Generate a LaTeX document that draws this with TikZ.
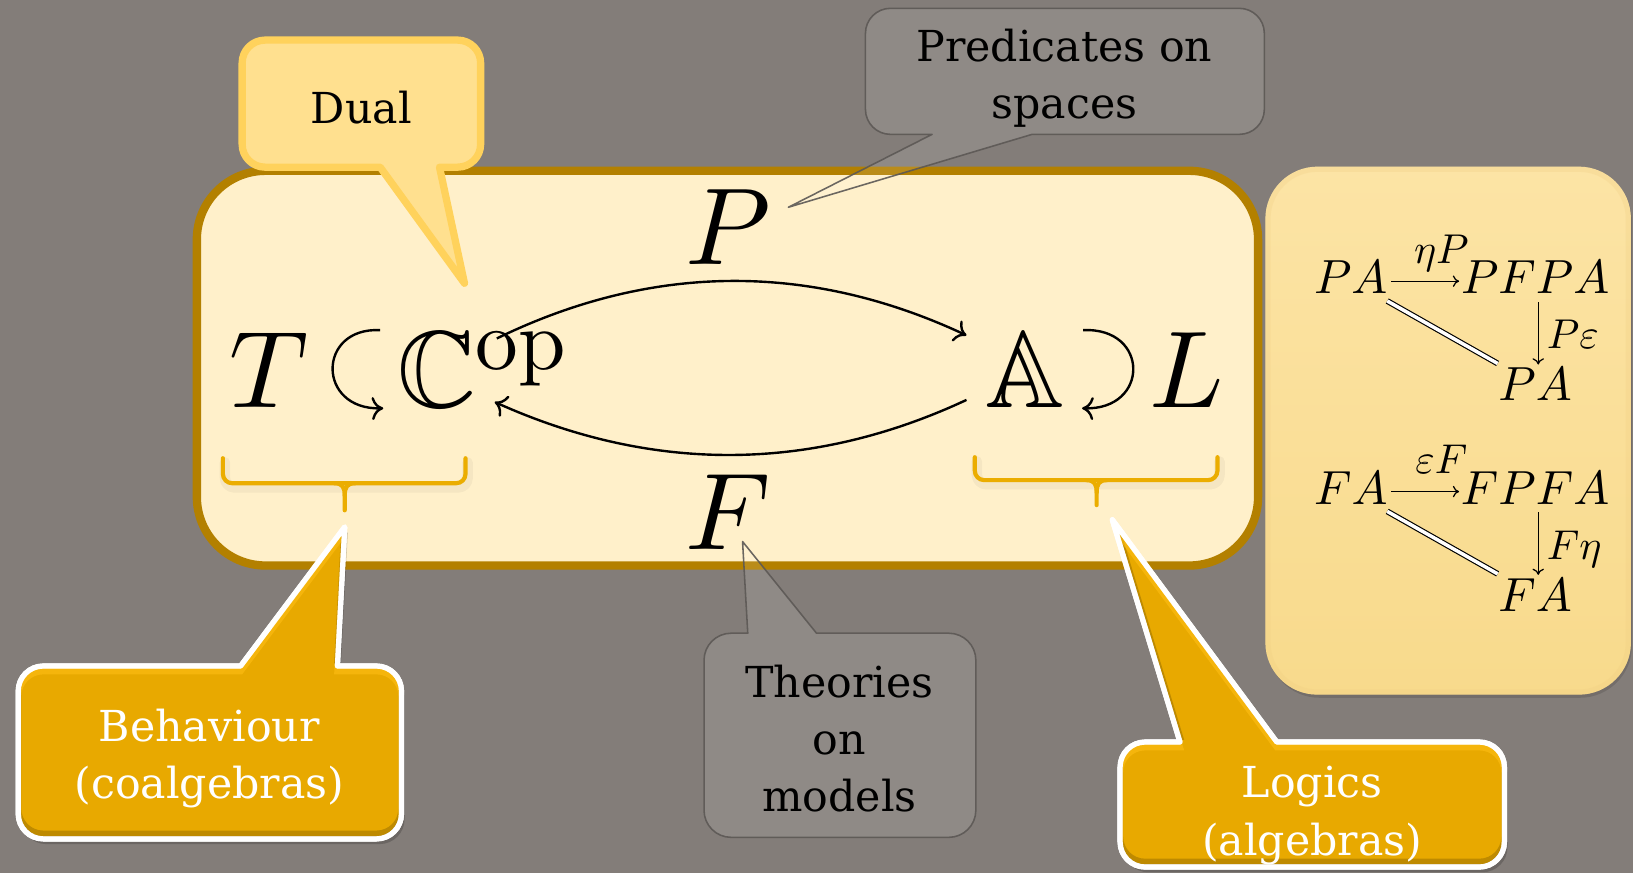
\RequirePackage{fix-cm}
\documentclass[tikz,border=0pt]{standalone}
\usepackage{amssymb}
\usepackage{fontspec}
\newfontfamily\callfont{DejaVu Serif}
\DeclareFontShape{OML}{cmm}{m}{it}{<->cmmi10}{}
\DeclareFontShape{OT1}{cmr}{m}{n}{<->cmr10}{}
\usetikzlibrary{arrows.meta,calc}
\definecolor{bgc}{RGB}{131,125,121}
\definecolor{mainfill}{RGB}{255,240,202}
\definecolor{mainborder}{RGB}{179,128,0}
\definecolor{rightfillA}{RGB}{252,228,165}
\definecolor{rightfillB}{RGB}{248,218,140}
\definecolor{dualfill}{RGB}{255,224,143}
\definecolor{dualborder}{RGB}{255,210,92}
\definecolor{grayborder}{RGB}{92,88,85}
\definecolor{goldfill}{RGB}{232,169,0}
\definecolor{goldlight}{RGB}{255,190,20}
\definecolor{bracec}{RGB}{235,173,0}
% rounded box with a pointer on its bottom edge: x1 y1 x2 y2 r baseleft baseright tipx tipy
\newcommand{\cbot}[9]{({#1+#5},#2) -- ({#3-#5},#2) .. controls ({#3-0.4477*#5},#2) and (#3,{#2+0.4477*#5}) .. (#3,{#2+#5}) -- (#3,{#4-#5}) .. controls (#3,{#4-0.4477*#5}) and ({#3-0.4477*#5},#4) .. ({#3-#5},#4) -- (#7,#4) -- (#8,#9) -- (#6,#4) -- ({#1+#5},#4) .. controls ({#1+0.4477*#5},#4) and (#1,{#4-0.4477*#5}) .. (#1,{#4-#5}) -- (#1,{#2+#5}) .. controls (#1,{#2+0.4477*#5}) and ({#1+0.4477*#5},#2) .. cycle}
% rounded box with a pointer on its top edge
\newcommand{\ctop}[9]{({#1+#5},#2) -- (#6,#2) -- (#8,#9) -- (#7,#2) -- ({#3-#5},#2) .. controls ({#3-0.4477*#5},#2) and (#3,{#2+0.4477*#5}) .. (#3,{#2+#5}) -- (#3,{#4-#5}) .. controls (#3,{#4-0.4477*#5}) and ({#3-0.4477*#5},#4) .. ({#3-#5},#4) -- ({#1+#5},#4) .. controls ({#1+0.4477*#5},#4) and (#1,{#4-0.4477*#5}) .. (#1,{#4-#5}) -- (#1,{#2+#5}) .. controls (#1,{#2+0.4477*#5}) and ({#1+0.4477*#5},#2) .. cycle}
\newcommand{\opfont}{\fontencoding{OT1}\fontfamily{cmr}\fontseries{m}\fontshape{n}\fontsize{82}{82}\selectfont}
\tikzset{
  bigm/.style={inner sep=0pt, font=\fontsize{105}{105}\selectfont},
  dmath/.style={inner sep=0pt, anchor=base, font=\fontsize{46}{46}\selectfont},
  dlab/.style={inner sep=0pt, font=\fontsize{40}{40}\selectfont},
  cmarr/.style={line width=2.3pt, -{Computer Modern Rightarrow[length=11pt,width=22pt]}},
  smallarr/.style={line width=1.2pt, -{Computer Modern Rightarrow[length=6pt,width=11pt]}},
  dblline/.style={double, double distance=3.4pt, line width=1.1pt},
  bracestyle/.style={draw=bracec, line width=4pt, line cap=round, line join=round},
  braceshadow/.style={draw=black, opacity=0.04, line width=10pt, line cap=round, line join=round},
  calltext/.style={align=center, inner sep=0pt, font=\callfont\fontsize{41}{55}\selectfont},
  dualcall/.style={fill=dualfill, draw=dualborder, line width=7pt, line join=round},
  graycall/.style={fill=white, fill opacity=0.1, draw=grayborder, draw opacity=0.9, line width=1.5pt, line join=round},
  goldcall/.style={fill=goldfill, draw=white, line width=5pt, line join=round},
  callshadow/.style={fill=black, fill opacity=0.18, draw=none},
}
\begin{document}
\begin{tikzpicture}[x=1pt,y=-1pt]
\useasboundingbox (0,0) rectangle (1568,838);
\fill[bgc] (0,0) rectangle (1568,838);

% main box
\draw[line width=8pt, draw=mainborder, fill=mainfill, rounded corners=66pt] (189,164) rectangle (1208,543);

% right box
\path[fill=black, fill opacity=0.12, rounded corners=50pt] (1217,163) rectangle (1567,670);
\shade[top color=rightfillA, bottom color=rightfillB, rounded corners=50pt] (1215,160) rectangle (1566,667);
\begin{scope}
  \clip[rounded corners=50pt] (1215,160) rectangle (1566,667);
  \draw[draw=rightfillB!85!brown, opacity=0.25, line width=10pt, rounded corners=50pt] (1215,160) rectangle (1566,667);
\end{scope}

% braces
\draw[braceshadow, rounded corners=9pt] (216,444) -- (216,468) -- (449,468) -- (449,444);
\draw[bracestyle, rounded corners=9pt] (214,440) -- (214,464) -- (447,464) -- (447,440);
\draw[bracestyle] (321,464) .. controls (329,464) and (331,468) .. (331,476) -- (331,490);
\draw[bracestyle] (341,464) .. controls (333,464) and (331,468) .. (331,476);
\draw[braceshadow, rounded corners=9pt] (938,443) -- (938,465) -- (1171,465) -- (1171,443);
\draw[bracestyle, rounded corners=9pt] (936,439) -- (936,461) -- (1169,461) -- (1169,439);
\draw[bracestyle] (1043,461) .. controls (1051,461) and (1053,465) .. (1053,473) -- (1053,485);
\draw[bracestyle] (1063,461) .. controls (1055,461) and (1053,465) .. (1053,473);

% main formula
\node[bigm, anchor=base] (T) at (258,391) {$T$};
\node[bigm, anchor=base west] (Cop) at (381,391) {$\mathbb{C}$\raisebox{36pt}{\opfont op}};
\node[bigm, anchor=base] (A) at (984,391) {$\mathbb{A}$};
\node[bigm, anchor=base] (L) at (1139,391) {$L$};
\node[bigm, anchor=base] (P) at (699,254) {$P$};
\node[bigm, anchor=base] (F) at (699,528) {$F$};

\coordinate (lloopS) at (365,317);
\coordinate (lloopE) at (368,392);
\coordinate (rloopS) at (1040,317);
\coordinate (rloopE) at (1039,392);
\draw[cmarr] (lloopS) .. controls (304,314) and (304,394) .. (lloopE);
\draw[cmarr] (rloopS) .. controls (1104,314) and (1104,394) .. (rloopE);

\coordinate (topS) at (477,325);
\coordinate (topE) at (928,322);
\coordinate (botS) at (928,384);
\coordinate (botE) at (475,386);
\draw[cmarr] (topS) .. controls (627,252) and (778,252) .. (topE);
\draw[cmarr] (botS) .. controls (778,454) and (626,454) .. (botE);

% right box diagrams
\node[dmath] (pa1) at (1297,282) {$PA$};
\node[dmath] (pfpa) at (1474,282) {$PFPA$};
\node[dmath] (pa2) at (1474,385) {$PA$};
\node[dlab, anchor=base] (etaP) at (1384,253) {$\eta P$};
\node[dlab, anchor=base west] (Peps) at (1485,335) {$P\varepsilon$};
\coordinate (a1s) at (1336,270);
\coordinate (a1e) at (1401,270);
\coordinate (v1s) at (1477,290);
\coordinate (v1e) at (1477,350);
\coordinate (d1s) at (1332,289);
\coordinate (d1e) at (1438,349);
\draw[smallarr] (a1s) -- (a1e);
\draw[smallarr] (v1s) -- (v1e);
\draw[dblline] (d1s) -- (d1e);

\node[dmath] (fa1) at (1297,484) {$FA$};
\node[dmath] (fpfa) at (1474,484) {$FPFA$};
\node[dmath] (fa2) at (1474,587) {$FA$};
\node[dlab, anchor=base] (epsF) at (1384,455) {$\varepsilon F$};
\node[dlab, anchor=base west] (Feta) at (1485,537) {$F\eta$};
\coordinate (a2s) at (1336,472);
\coordinate (a2e) at (1401,472);
\coordinate (v2s) at (1477,492);
\coordinate (v2e) at (1477,552);
\coordinate (d2s) at (1332,491);
\coordinate (d2e) at (1438,551);
\draw[smallarr] (a2s) -- (a2e);
\draw[smallarr] (v2s) -- (v2e);
\draw[dblline] (d2s) -- (d2e);

% callouts
\path[graycall] \cbot{831}{8}{1214}{129}{24}{895}{991}{757}{199};
\node[calltext] (pred) at (1022,75) {Predicates on\\spaces};

\path[dualcall] \cbot{232.5}{38.5}{461.5}{160.5}{22}{365}{422}{446}{272};
\node[calltext] (dual) at (347,103) {Dual};

\path[graycall] \ctop{676}{608}{937}{804}{26}{718}{784}{713}{520};
\node[calltext] (theo) at (806,709) {Theories\\on\\models};

\path[callshadow, shift={(3,5)}] \ctop{17.5}{639.5}{385.5}{805.5}{24}{231}{324}{331}{506};
\path[goldcall] \ctop{17.5}{639.5}{385.5}{805.5}{24}{231}{324}{331}{506};
\begin{scope}
  \clip \ctop{17.5}{639.5}{385.5}{805.5}{24}{231}{324}{331}{506};
  \draw[draw=black, opacity=0.18, line width=6pt, shift={(0,-5)}] \ctop{17.5}{639.5}{385.5}{805.5}{24}{231}{324}{331}{506};
  \draw[draw=goldlight, opacity=0.6, line width=6pt, shift={(0,5)}] \ctop{17.5}{639.5}{385.5}{805.5}{24}{231}{324}{331}{506};
\end{scope}
\path[draw=white, line width=5pt, line join=round] \ctop{17.5}{639.5}{385.5}{805.5}{24}{231}{324}{331}{506};
\node[calltext, text=white] (beh) at (201,728) {Behaviour\\(coalgebras)};

\path[callshadow, shift={(3,5)}] \ctop{1075.5}{712.5}{1444.5}{832.5}{24}{1133}{1226}{1068}{499};
\path[goldcall] \ctop{1075.5}{712.5}{1444.5}{832.5}{24}{1133}{1226}{1068}{499};
\begin{scope}
  \clip \ctop{1075.5}{712.5}{1444.5}{832.5}{24}{1133}{1226}{1068}{499};
  \draw[draw=black, opacity=0.18, line width=6pt, shift={(0,-5)}] \ctop{1075.5}{712.5}{1444.5}{832.5}{24}{1133}{1226}{1068}{499};
  \draw[draw=goldlight, opacity=0.6, line width=6pt, shift={(0,5)}] \ctop{1075.5}{712.5}{1444.5}{832.5}{24}{1133}{1226}{1068}{499};
\end{scope}
\path[draw=white, line width=5pt, line join=round] \ctop{1075.5}{712.5}{1444.5}{832.5}{24}{1133}{1226}{1068}{499};
\node[calltext, text=white] (logi) at (1260,783) {Logics\\(algebras)};
\end{tikzpicture}
\end{document}
